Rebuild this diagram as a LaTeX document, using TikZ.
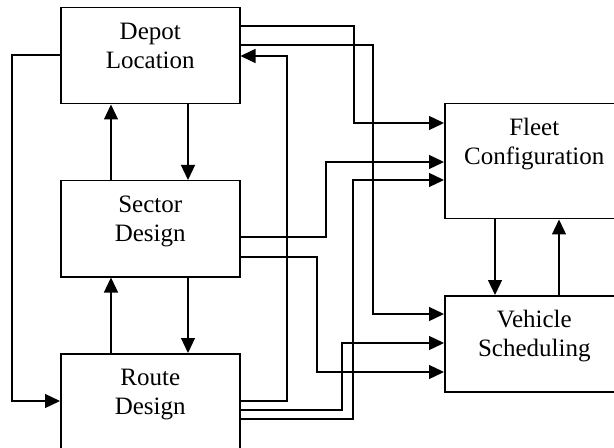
\documentclass[tikz,border=0pt]{standalone}
\usepackage{fontspec}
\setmainfont{Liberation Serif}
\usetikzlibrary{arrows.meta}
\tikzset{
  block/.style={draw, line width=0.75pt, anchor=north west, inner sep=0pt,
    minimum width=89.5pt, text width=85pt, align=center,
    text height=16pt, text depth=32pt},
  link/.style={line width=0.65pt}
}
\begin{document}
\begin{tikzpicture}[x=0.5pt, y=-0.5pt, font=\fontsize{12.5}{14.3}\selectfont,
    >={Triangle[length=7.5pt,width=7pt]}]
  \useasboundingbox (0,0) rectangle (614,448);
  % the five planning stages
  \node[block] (depot) at (60,7) {Depot\\Location};
  \node[block] (sector) at (60,180) {Sector\\Design};
  \node[block] (route) at (60,353) {Route\\Design};
  \node[block, text depth=41.5pt] (fleet) at (444,103) {Fleet\\Configuration};
  \node[block] (vehicle) at (444,295) {Vehicle\\Scheduling};
  % left column, up and down
  \draw[link,->] (depot.south -| 188,0) -- (sector.north -| 188,0);
  \draw[link,->] (sector.north -| 111,0) -- (depot.south -| 111,0);
  \draw[link,->] (sector.south -| 188,0) -- (route.north -| 188,0);
  \draw[link,->] (route.north -| 111,0) -- (sector.south -| 111,0);
  \draw[link,->] (depot.west |- 0,55) -| (12,401) -- (route.west |- 0,401);
  \draw[link,->] (route.east |- 0,401) -| (287,56) -- (depot.east |- 0,56);
  % into fleet configuration
  \draw[link,->] (depot.east |- 0,26) -| (354,123) -- (fleet.west |- 0,123);
  \draw[link,->] (sector.east |- 0,237) -| (326,162) -- (fleet.west |- 0,162);
  \draw[link,->] (route.east |- 0,419) -| (353,180) -- (fleet.west |- 0,180);
  % into vehicle scheduling
  \draw[link,->] (depot.east |- 0,45) -| (373,314) -- (vehicle.west |- 0,314);
  \draw[link,->] (route.east |- 0,410) -| (342,343) -- (vehicle.west |- 0,343);
  \draw[link,->] (sector.east |- 0,257) -| (317,372) -- (vehicle.west |- 0,372);
  % right column
  \draw[link,->] (fleet.south -| 495,0) -- (vehicle.north -| 495,0);
  \draw[link,->] (vehicle.north -| 559,0) -- (fleet.south -| 559,0);
\end{tikzpicture}
\end{document}
